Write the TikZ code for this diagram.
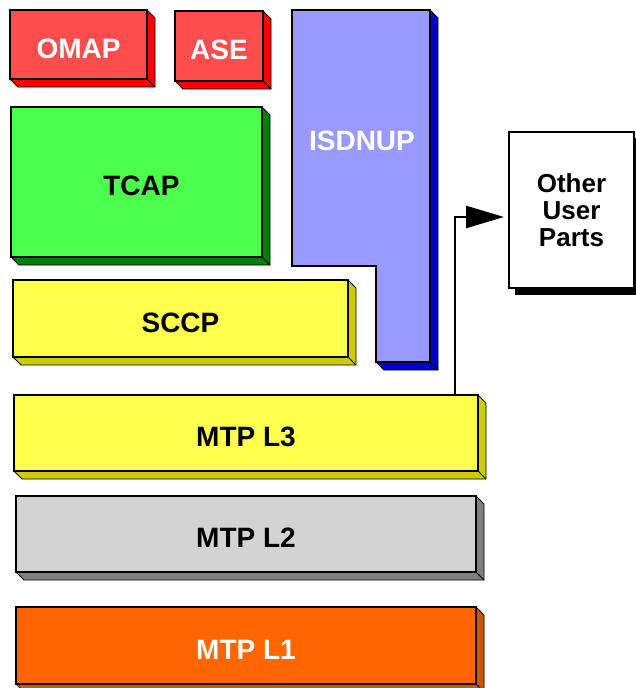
\documentclass[tikz,border=0pt]{standalone}
\usepackage{fontspec}
\setmainfont{Liberation Sans}
\usetikzlibrary{calc,arrows.meta,backgrounds}
\definecolor{redF}{RGB}{255,77,77}
\definecolor{redS}{RGB}{255,0,0}
\definecolor{grnF}{RGB}{77,255,77}
\definecolor{grnS}{RGB}{0,128,0}
\definecolor{bluF}{RGB}{153,153,255}
\definecolor{bluS}{RGB}{0,0,204}
\definecolor{yelF}{RGB}{255,255,77}
\definecolor{yelS}{RGB}{204,204,0}
\definecolor{gryF}{RGB}{211,211,211}
\definecolor{gryS}{RGB}{128,128,128}
\definecolor{orgF}{RGB}{255,102,0}
\definecolor{orgS}{RGB}{204,85,0}
\newcommand{\boxdepth}[2]{%
  \filldraw[fill=#2,draw=black,line width=0.8pt,line join=round]
    (#1.north east) -- ++(8,8) -- ($(#1.south east)+(8,8)$) -- ($(#1.south west)+(8,8)$)
    -- (#1.south west) -- (#1.south east) -- cycle;
  \draw[line width=0.8pt] (#1.south east) -- ++(8,8);
  \draw[line width=2pt] (#1.north east) -- (#1.south east) -- (#1.south west);}
\begin{document}
\begin{tikzpicture}[x=1pt,y=-1pt,
  layer/.style={draw=black,line width=2pt,rectangle,anchor=north west,outer sep=0pt,
    inner sep=0pt,text height=27pt,text depth=0pt,font=\fontsize{28}{28}\selectfont\bfseries},
  txt/.style={font=\fontsize{28}{28}\selectfont\bfseries,inner sep=0pt}]
\useasboundingbox (0,0) rectangle (636,688);
% OMAP, ASE
\node[layer,fill=redF,text=white,minimum width=137pt,minimum height=69pt] (omap) at (10,10) {OMAP};
\boxdepth{omap}{redS}
\node[layer,fill=redF,text=white,minimum width=88pt,minimum height=70pt] (ase) at (175,11) {ASE};
\boxdepth{ase}{redS}
% TCAP
\node[layer,fill=grnF,minimum width=251pt,minimum height=150pt] (tcap) at (11,107) {\hspace*{10pt}TCAP};
\boxdepth{tcap}{grnS}
% SCCP
\node[layer,fill=yelF,minimum width=335pt,minimum height=77pt] (sccp) at (13,280) {SCCP};
\boxdepth{sccp}{yelS}
% ISDNUP
\filldraw[fill=bluS,draw=black,line width=0.8pt,line join=round]
  (430,10) -- (438,18) -- (438,370) -- (384,370) -- (376,362) -- (430,362) -- cycle;
\draw[line width=0.8pt] (430,362) -- (438,370);
\filldraw[fill=bluF,draw=black,line width=2pt,line join=miter]
  (292,10) -- (430,10) -- (430,362) -- (376,362) -- (376,266) -- (292,266) -- cycle;
\node[txt,text=white] (isdnup) at (362,141) {ISDNUP};
% MTP layers
\node[layer,fill=yelF,minimum width=464pt,minimum height=76pt] (l3) at (14,395) {MTP L3};
\boxdepth{l3}{yelS}
\node[layer,fill=gryF,minimum width=460pt,minimum height=76pt] (l2) at (16,496) {MTP L2};
\boxdepth{l2}{gryS}
\node[layer,fill=orgF,text=white,minimum width=460pt,minimum height=77pt] (l1) at (16,607) {MTP L1};
\boxdepth{l1}{orgS}
% Other User Parts
\node[draw=black,line width=2.5pt,fill=white,anchor=north west,outer sep=0pt,
  minimum width=125pt,minimum height=156pt,align=center,
  font=\fontsize{26}{27}\selectfont\bfseries] (oup) at (509,132) {Other\\User\\Parts};
\begin{scope}[on background layer]
  \fill[white] (0,0) rectangle (636,688);
  \fill[black] ($(oup.north west)+(6,6)$) rectangle ($(oup.south east)+(7,7)$);
\end{scope}
% arrow
\coordinate (tap) at (455,395);
\coordinate (aend) at (oup.west |- 0,217);
\draw[line width=2.5pt,shorten >=5pt,-{Triangle[length=38pt,width=22pt]}] (tap) |- (aend);
\end{tikzpicture}
\end{document}
